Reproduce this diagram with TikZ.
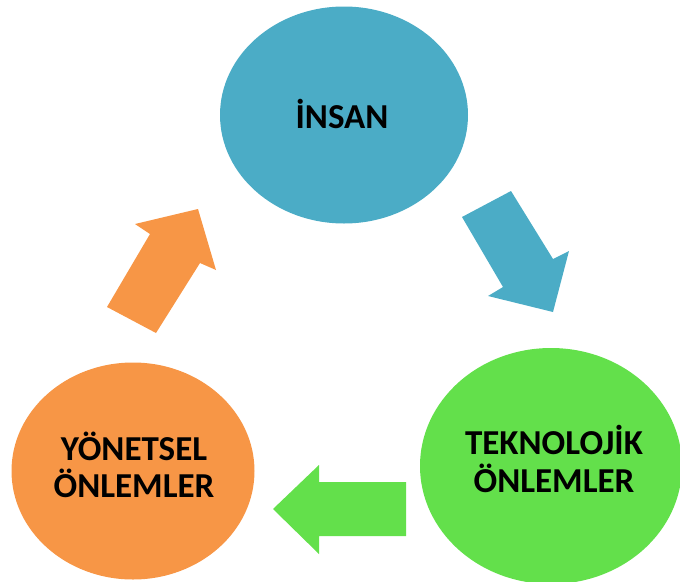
\documentclass[tikz,border=0pt]{standalone}
\usepackage{fontspec}
\setmainfont{Carlito}
\usetikzlibrary{shapes.geometric}
\definecolor{cblue}{HTML}{4BACC6}
\definecolor{cgreen}{HTML}{63E04B}
\definecolor{corange}{HTML}{F79646}
\tikzset{
  blob/.style={ellipse, inner sep=0pt, draw=none},
  lbl/.style={font=\bfseries\fontsize{35}{37.5}\selectfont, align=center, text=black}
}
\begin{document}
\begin{tikzpicture}[x=1pt, y=-1pt]
  \useasboundingbox (0,0) rectangle (680,581);
  \clip (0,0) rectangle (680,581);
  % three circles of the cycle
  \node[blob, fill=cblue, minimum width=248pt, minimum height=217pt] (insan) at (344,115) {};
  \node[blob, fill=cgreen, minimum width=262pt, minimum height=236pt] (tekno) at (551,466) {};
  \node[blob, fill=corange, minimum width=243pt, minimum height=217pt] (yonet) at (133,471) {};
  \node[lbl] (insanT) at (342,114) {İNSAN};
  \node[lbl] (teknoT) at (554,459) {TEKNOLOJİK\\ÖNLEMLER};
  \node[lbl] (yonetT) at (134,465) {YÖNETSEL\\ÖNLEMLER};
  % block arrows between them
  \fill[cblue] (462,217) -- (511,191) -- (553,259) -- (569,251) -- (553,312) -- (488,296) -- (503,287) -- cycle;
  \fill[cgreen] (406,482) -- (319,482) -- (319,465) -- (273,509) -- (319,554) -- (319,536) -- (406,536) -- cycle;
  \fill[corange] (107,307) -- (156,333) -- (200,263) -- (216,270) -- (198,209) -- (135,224) -- (150,234) -- cycle;
\end{tikzpicture}
\end{document}
